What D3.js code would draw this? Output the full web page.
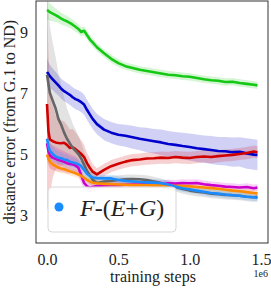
<!DOCTYPE html>
<html>
<head>
<meta charset="utf-8">
<script src="https://cdn.jsdelivr.net/npm/d3@7"></script>
<style>
	body { margin: 0; background: #fff; }
	text { font-family: "Liberation Serif", "DejaVu Serif", serif; fill: #222; }
</style>
</head>
<body>
<svg id="chart" width="271" height="289"></svg>
<script>
// training steps, in units of 1e6
var steps = [0, 0.01, 0.02, 0.04, 0.06, 0.08, 0.1, 0.12, 0.14, 0.16, 0.18, 0.2,
	0.22, 0.24, 0.26, 0.28, 0.3, 0.32, 0.35, 0.4, 0.45, 0.5, 0.55, 0.6, 0.65, 0.7,
	0.75, 0.8, 0.85, 0.9, 0.95, 1.0, 1.05, 1.1, 1.15, 1.2, 1.25, 1.3, 1.35, 1.4,
	1.45, 1.475];

var greenMean = [9.72, 9.69, 9.65, 9.6, 9.55, 9.5, 9.44, 9.39, 9.35, 9.3, 9.24, 9.17,
	9.1, 9.0, 9.04, 8.9, 8.76, 8.66, 8.5, 8.3, 8.12, 7.98, 7.88, 7.82, 7.76, 7.72,
	7.68, 7.64, 7.6, 7.58, 7.55, 7.53, 7.49, 7.45, 7.42, 7.4, 7.36, 7.37, 7.33, 7.3,
	7.27, 7.25];
var greenSd = [0.35, 0.3, 0.28, 0.25, 0.22, 0.2, 0.2, 0.18, 0.18, 0.17, 0.16, 0.16,
	0.15, 0.15, 0.15, 0.15, 0.14, 0.14, 0.13, 0.13, 0.13, 0.13, 0.12, 0.12, 0.12, 0.12,
	0.12, 0.12, 0.12, 0.12, 0.12, 0.12, 0.12, 0.12, 0.12, 0.12, 0.12, 0.12, 0.12, 0.12,
	0.12, 0.12];

var blueMean = [7.69, 7.62, 7.55, 7.45, 7.35, 7.25, 7.14, 7.06, 7.0, 6.94, 6.86, 6.8,
	6.76, 6.7, 6.62, 6.45, 6.3, 6.15, 5.98, 5.8, 5.7, 5.63, 5.6, 5.55, 5.5, 5.46,
	5.42, 5.38, 5.33, 5.3, 5.26, 5.23, 5.19, 5.16, 5.13, 5.1, 5.09, 5.06, 5.07, 5.02,
	4.98, 4.97];
var blueSd = [0.45, 0.4, 0.38, 0.35, 0.35, 0.33, 0.33, 0.33, 0.33, 0.33, 0.33, 0.33,
	0.33, 0.33, 0.33, 0.33, 0.33, 0.33, 0.33, 0.35, 0.35, 0.35, 0.36, 0.38, 0.38, 0.4,
	0.4, 0.42, 0.42, 0.42, 0.44, 0.44, 0.45, 0.45, 0.46, 0.46, 0.47, 0.48, 0.48, 0.5,
	0.5, 0.5];

var redMean = [6.64, 5.75, 5.48, 5.42, 5.38, 5.36, 5.35, 5.37, 5.3, 5.2, 5.22, 5.16,
	5.08, 5.0, 4.9, 4.7, 4.55, 4.42, 4.33, 4.48, 4.6, 4.68, 4.75, 4.8, 4.82, 4.85,
	4.86, 4.88, 4.87, 4.9, 4.88, 4.87, 4.9, 4.92, 4.9, 4.93, 4.95, 4.97, 5.0, 5.03,
	5.08, 5.06];
var redSd = [3.4, 2.6, 1.8, 1.2, 0.9, 0.8, 0.75, 0.7, 0.65, 0.6, 0.6, 0.55,
	0.5, 0.45, 0.4, 0.35, 0.3, 0.25, 0.2, 0.2, 0.2, 0.2, 0.2, 0.2, 0.2, 0.2,
	0.2, 0.2, 0.2, 0.2, 0.2, 0.2, 0.2, 0.2, 0.2, 0.2, 0.2, 0.2, 0.2, 0.2,
	0.2, 0.2];

var grayMean = [7.6, 7.3, 7.0, 6.75, 6.5, 6.15, 5.95, 5.7, 5.5, 5.35, 5.2, 5.1,
	5.0, 4.85, 4.65, 4.45, 4.3, 4.15, 4.05, 4.1, 4.12, 4.15, 4.17, 4.18, 4.17, 4.15,
	4.1, 4.05, 3.98, 3.92, 3.85, 3.8, 3.76, 3.74, 3.7, 3.68, 3.66, 3.65, 3.63, 3.6,
	3.58, 3.6];
var graySd = [2.6, 2.4, 2.2, 1.9, 1.7, 1.5, 1.3, 1.15, 1.0, 0.9, 0.8, 0.7,
	0.6, 0.5, 0.42, 0.35, 0.3, 0.25, 0.2, 0.18, 0.16, 0.15, 0.15, 0.15, 0.15, 0.15,
	0.15, 0.15, 0.15, 0.15, 0.15, 0.15, 0.15, 0.15, 0.15, 0.15, 0.15, 0.15, 0.15, 0.15,
	0.15, 0.15];

var magentaMean = [5.35, 5.1, 4.95, 4.88, 4.84, 4.8, 4.78, 4.74, 4.7, 4.68, 4.66, 4.62,
	4.55, 4.3, 4.05, 3.95, 3.9, 3.92, 3.95, 3.97, 3.98, 3.98, 3.99, 4.0, 4.0, 4.02,
	4.03, 4.01, 4.04, 4.03, 4.05, 4.04, 4.05, 4.01, 3.98, 3.96, 3.93, 3.92, 3.9, 3.92,
	3.88, 3.9];
var magentaSd = [0.5, 0.45, 0.42, 0.4, 0.4, 0.38, 0.36, 0.35, 0.34, 0.32, 0.3, 0.3,
	0.28, 0.25, 0.22, 0.2, 0.18, 0.16, 0.14, 0.13, 0.12, 0.12, 0.12, 0.12, 0.12, 0.12,
	0.12, 0.12, 0.12, 0.12, 0.12, 0.12, 0.12, 0.12, 0.12, 0.12, 0.12, 0.12, 0.12, 0.12,
	0.12, 0.12];

var orangeMean = [4.98, 4.85, 4.75, 4.66, 4.6, 4.55, 4.52, 4.5, 4.47, 4.43, 4.4, 4.37,
	4.33, 4.28, 4.22, 4.15, 4.1, 4.06, 4.04, 4.02, 4.01, 4.0, 3.99, 3.98, 3.98, 3.98,
	3.97, 3.97, 3.96, 3.96, 3.95, 3.94, 3.92, 3.9, 3.88, 3.86, 3.83, 3.8, 3.78, 3.75,
	3.72, 3.71];
var orangeSd = [0.25, 0.22, 0.2, 0.18, 0.16, 0.15, 0.15, 0.14, 0.14, 0.13, 0.13, 0.13,
	0.12, 0.12, 0.12, 0.12, 0.12, 0.12, 0.12, 0.12, 0.12, 0.12, 0.12, 0.12, 0.12, 0.12,
	0.12, 0.12, 0.12, 0.12, 0.12, 0.12, 0.12, 0.12, 0.12, 0.12, 0.12, 0.12, 0.12, 0.12,
	0.12, 0.12];

var lightBlueMean = [5.5, 5.25, 5.1, 5.0, 4.92, 4.88, 4.86, 4.82, 4.8, 4.75, 4.72, 4.7,
	4.66, 4.6, 4.48, 4.35, 4.28, 4.23, 4.21, 4.2, 4.2, 4.15, 4.12, 4.1, 4.08, 4.07,
	4.06, 4.04, 4.0, 3.93, 3.88, 3.84, 3.8, 3.76, 3.72, 3.7, 3.67, 3.65, 3.63, 3.6,
	3.58, 3.56];
var lightBlueSd = [0.35, 0.3, 0.28, 0.25, 0.22, 0.2, 0.2, 0.18, 0.18, 0.17, 0.16, 0.16,
	0.15, 0.15, 0.15, 0.14, 0.13, 0.13, 0.12, 0.12, 0.12, 0.12, 0.12, 0.12, 0.12, 0.12,
	0.12, 0.12, 0.12, 0.12, 0.12, 0.12, 0.12, 0.12, 0.12, 0.12, 0.12, 0.12, 0.12, 0.12,
	0.12, 0.12];

var xTicks = [0, 0.5, 1.0, 1.5];
var yTicks = [3, 5, 7, 9];
var legendLabel = "F-(E+G)";

var series = [
	{ mean: greenMean, sd: greenSd, color: "#14c814" },
	{ mean: blueMean, sd: blueSd, color: "#0000cc" },
	{ mean: redMean, sd: redSd, color: "#d10000" },
	{ mean: grayMean, sd: graySd, color: "#666666" },
	{ mean: magentaMean, sd: magentaSd, color: "#cc00cc" },
	{ mean: orangeMean, sd: orangeSd, color: "#ff8c00" },
	{ mean: lightBlueMean, sd: lightBlueSd, color: "#1a8cff" }
];

var svg = d3.select("#chart");
var pLeft = 36, pRight = 268, pTop = 1, pBottom = 243;

var xScale = d3.scaleLinear().domain([-0.0771, 1.549]).range([pLeft, pRight]);
var yScale = d3.scaleLinear().domain([2.082, 10.016]).range([pBottom, pTop]);

svg.append("clipPath").attr("id", "plotclip")
	.append("rect")
	.attr("x", pLeft).attr("y", pTop)
	.attr("width", pRight - pLeft).attr("height", pBottom - pTop);

var plot = svg.append("g").attr("clip-path", "url(#plotclip)");

var area = d3.area()
	.x(function(d) { return xScale(d.x); })
	.y0(function(d) { return yScale(d.y - d.sd); })
	.y1(function(d) { return yScale(d.y + d.sd); });

var line = d3.line()
	.x(function(d) { return xScale(d.x); })
	.y(function(d) { return yScale(d.y); });

function pts(s) {
	return steps.map(function(x, i) {
		return { x: x, y: s.mean[i], sd: s.sd[i] };
	});
}

// bands first, then the mean lines
series.forEach(function(s) {
	plot.append("path")
		.attr("d", area(pts(s)))
		.attr("fill", s.color)
		.attr("fill-opacity", 0.18);
});
series.forEach(function(s) {
	plot.append("path")
		.attr("d", line(pts(s)))
		.attr("fill", "none")
		.attr("stroke", s.color)
		.attr("stroke-width", 2.6)
		.attr("stroke-linejoin", "round");
});

// frame
svg.append("rect")
	.attr("x", pLeft).attr("y", pTop)
	.attr("width", pRight - pLeft).attr("height", pBottom - pTop)
	.attr("fill", "none")
	.attr("stroke", "#333")
	.attr("stroke-width", 1);

// axes, no tick marks
var xAxis = d3.axisBottom(xScale).tickValues(xTicks).tickSize(0).tickPadding(0)
	.tickFormat(d3.format(".1f"));
var gx = svg.append("g").attr("transform", "translate(0," + pBottom + ")").call(xAxis);
gx.select(".domain").remove();
gx.selectAll("text")
	.attr("y", 22).attr("dy", null)
	.style("font-size", "16px")
	.style("font-family", "Liberation Serif")
	.attr("fill", "#222");

var yAxis = d3.axisLeft(yScale).tickValues(yTicks).tickSize(0).tickPadding(8);
var gy = svg.append("g").attr("transform", "translate(" + pLeft + ",0)").call(yAxis);
gy.select(".domain").remove();
gy.selectAll("text")
	.style("font-size", "16px")
	.style("font-family", "Liberation Serif")
	.attr("fill", "#222");

svg.append("text")
	.attr("x", 153).attr("y", 282)
	.style("text-anchor", "middle")
	.style("font-size", "16px")
	.text("training steps");

svg.append("text")
	.attr("x", pRight).attr("y", 277)
	.style("text-anchor", "end")
	.style("font-size", "10px")
	.text("1e6");

svg.append("text")
	.attr("transform", "rotate(-90)")
	.attr("x", -(pTop + pBottom) / 2)
	.attr("y", 15)
	.style("text-anchor", "middle")
	.style("font-size", "16px")
	.text("distance error (from G.1 to ND)");

// legend
var lg = svg.append("g");
lg.append("rect")
	.attr("x", 48).attr("y", 187)
	.attr("width", 128).attr("height", 45)
	.attr("rx", 4)
	.attr("fill", "#fff").attr("fill-opacity", 0.85)
	.attr("stroke", "#d6d6d6");
lg.append("circle")
	.attr("cx", 59).attr("cy", 207).attr("r", 4.5)
	.attr("fill", series[6].color);
var lt = lg.append("text")
	.attr("x", 80).attr("y", 216)
	.style("font-size", "24px");
legendLabel.split("").forEach(function(ch) {
	lt.append("tspan")
		.style("font-style", /[A-Z]/.test(ch) ? "italic" : "normal")
		.text(ch);
});
</script>
</body>
</html>
